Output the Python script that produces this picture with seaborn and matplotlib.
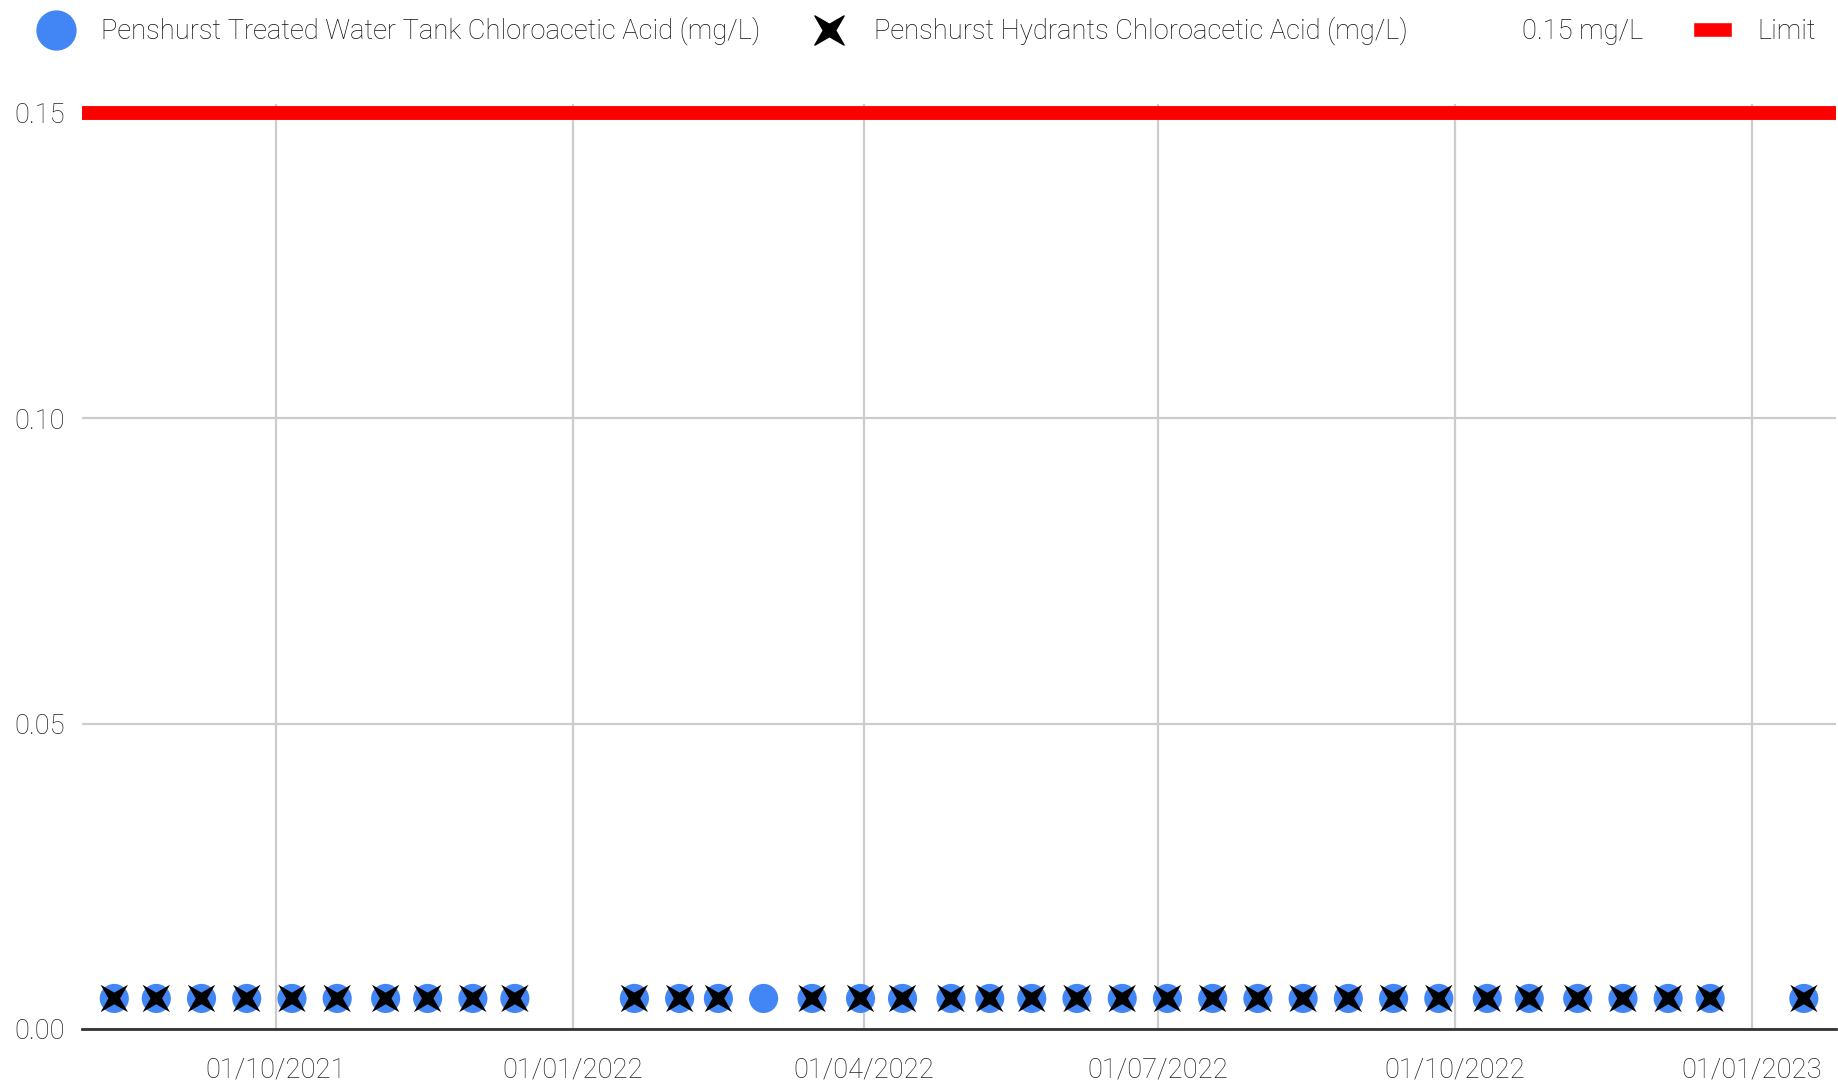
import pandas as pd
import matplotlib.pyplot as plt
import matplotlib.dates as mdates
from matplotlib.lines import Line2D
from matplotlib.patches import Patch
from matplotlib.path import Path
from matplotlib.transforms import Affine2D
import seaborn as sns

sns.set_style("white")
plt.rcParams['font.family'] = ['Roboto', 'DejaVu Sans']
plt.rcParams['font.weight'] = 'light'

# sample dates
tank_dates = ['2021-08-12', '2021-08-25', '2021-09-08', '2021-09-22', '2021-10-06',
              '2021-10-20', '2021-11-04', '2021-11-17', '2021-12-01', '2021-12-14',
              '2022-01-20', '2022-02-03', '2022-02-15', '2022-03-01', '2022-03-16',
              '2022-03-31', '2022-04-13', '2022-04-28', '2022-05-10', '2022-05-23',
              '2022-06-06', '2022-06-20', '2022-07-04', '2022-07-18', '2022-08-01',
              '2022-08-15', '2022-08-29', '2022-09-12', '2022-09-26', '2022-10-11',
              '2022-10-24', '2022-11-08', '2022-11-22', '2022-12-06', '2022-12-19',
              '2023-01-17']
tank_values = [0.005] * len(tank_dates)

hydrant_dates = [d for d in tank_dates if d != '2022-03-01']
hydrant_values = [0.005] * len(hydrant_dates)

limit_value = 0.15
limit_range = ['2021-08-02', '2023-01-27']

tank = pd.DataFrame({'date': pd.to_datetime(tank_dates), 'value': tank_values})
hydrants = pd.DataFrame({'date': pd.to_datetime(hydrant_dates), 'value': hydrant_values})

# thin four-point star turned 45 degrees, like the chart's X marker
star = Path.unit_regular_star(4, innerCircle=0.3)
xmark = Path(Affine2D().rotate_deg(45).transform(star.vertices), star.codes)

fig = plt.figure(figsize=(18.38, 10.86), dpi=100)
ax = fig.add_axes([0.0446, 0.0525, 0.9544, 0.852])

ax.plot(pd.to_datetime(limit_range), [limit_value, limit_value], color='#ff0000', lw=10,
        solid_capstyle='butt', zorder=3)
sns.scatterplot(data=tank, x='date', y='value', ax=ax, color='#4285f4', s=440,
                edgecolor='none', zorder=4)
sns.scatterplot(data=hydrants, x='date', y='value', ax=ax, color='black', marker=xmark,
                s=390, edgecolor='none', zorder=5)

ax.set_xlim(pd.Timestamp(limit_range[0]), pd.Timestamp(limit_range[1]))
ax.set_ylim(0, 0.1515)
ax.set_yticks([0.0, 0.05, 0.10, 0.15])
ax.set_yticklabels(['0.00', '0.05', '0.10', '0.15'])
ax.xaxis.set_major_locator(mdates.MonthLocator(bymonth=[1, 4, 7, 10]))
ax.xaxis.set_major_formatter(mdates.DateFormatter('%d/%m/%Y'))
ax.set_xlabel('')
ax.set_ylabel('')

ax.grid(True, color='#cccccc', lw=1.6)
ax.set_axisbelow(True)
for s in ['top', 'right', 'left']:
    ax.spines[s].set_visible(False)
ax.spines['bottom'].set_color('#333333')
ax.spines['bottom'].set_linewidth(2)
ax.tick_params(axis='both', length=0, labelsize=19.7, labelcolor='#222222')
ax.tick_params(axis='x', pad=20)
ax.tick_params(axis='y', pad=12)

handles = [
    Line2D([], [], marker='o', color='#4285f4', ls='none', markersize=28),
    Line2D([], [], marker=xmark, color='black', ls='none', markersize=21),
    Line2D([], [], ls='none'),
    Patch(facecolor='#ff0000'),
]
labels = ['Penshurst Treated Water Tank Chloroacetic Acid (mg/L)',
          'Penshurst Hydrants Chloroacetic Acid (mg/L)',
          '0.15 mg/L', 'Limit']
fig.legend(handles, labels, loc='upper left', bbox_to_anchor=(0.0093, 1.002), ncol=4,
           frameon=False, fontsize=19.7, labelcolor='#111111', handlelength=1.42,
           handleheight=0.48, handletextpad=0.95, columnspacing=1.8, borderaxespad=0.3)

plt.savefig('out.png')
